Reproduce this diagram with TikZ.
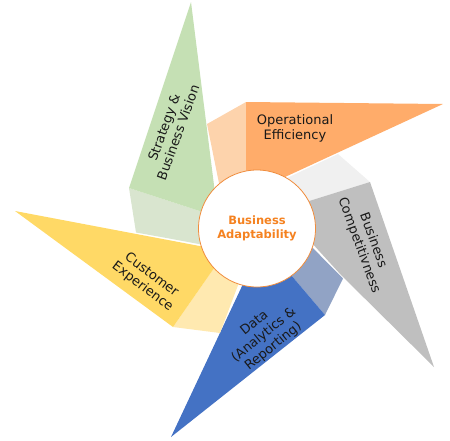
\documentclass[tikz,border=0pt]{standalone}
\usepackage{fontspec}
\setmainfont{DejaVu Sans}
\usepackage{tikz}
\definecolor{greendark}{RGB}{197,224,180}
\definecolor{greenlight}{RGB}{217,229,207}
\definecolor{orangedark}{RGB}{255,172,106}
\definecolor{orangelight}{RGB}{253,211,172}
\definecolor{graydark}{RGB}{191,191,191}
\definecolor{graylight}{RGB}{240,240,240}
\definecolor{bluedark}{RGB}{68,114,196}
\definecolor{bluelight}{RGB}{145,163,197}
\definecolor{yellowdark}{RGB}{255,217,102}
\definecolor{yellowlight}{RGB}{255,233,176}
\definecolor{hubline}{RGB}{240,140,60}
\definecolor{hubtext}{RGB}{245,130,32}

\begin{document}
\begin{tikzpicture}[x=1pt,y=-1pt]
    \tikzstyle{blade}=[draw=none]
    \tikzstyle{caption}=[align=center, text=black!90, inner sep=0pt, font=\fontsize{13}{15}\selectfont]
    \tikzstyle{hub}=[
      circle,
      draw=hubline,
      fill=white,
      line width=0.8pt,
      minimum size=117pt,
      inner sep=0pt,
      align=center,
      text=hubtext,
      font=\bfseries\fontsize{11.5}{13.5}\selectfont,
    ]
    \useasboundingbox (0,0) rectangle (450,440);

    \fill[blade,greenlight] (129,188) -- (136,232.5) -- (172,239) -- (228,249.5) -- (218,217) -- cycle;
    \fill[blade,greendark] (191,2) -- (129,188) -- (218,217) -- cycle;
    \fill[blade,orangelight] (207,124) -- (246,102) -- (246,195) -- (222,198) -- cycle;
    \fill[blade,orangedark] (246,102) -- (443,104) -- (246,195) -- cycle;
    \fill[blade,graylight] (270,186) -- (338,154) -- (370,182) -- (290,207) -- cycle;
    \fill[blade,graydark] (370,182) -- (434,367) -- (341,275) -- (300,230) -- (290,207) -- cycle;
    \fill[blade,bluelight] (298,233) -- (343,278.5) -- (325,315) -- (280,262) -- cycle;
    \fill[blade,bluedark] (171,437) -- (325,315) -- (280,262) -- (251,267) -- cycle;
    \fill[blade,yellowlight] (226,251) -- (173,327) -- (220,333) -- (246,264) -- cycle;
    \fill[blade,yellowdark] (15,211) -- (226,251) -- (173,327) -- cycle;

    \node[hub] (hub) at (257,228.5) {Business\\Adaptability};

    \node[caption,rotate=70] (strategy) at (171,130) {Strategy \&\\Business Vision};
    \node[caption] (efficiency) at (295,128) {Operational\\Efficiency};
    \node[caption,rotate=-70] (competition) at (366,243) {Business\\Competitivness};
    \node[caption,rotate=39] (data) at (264,335) {Data\\(Analytics \&\\Reporting)};
    \node[caption,rotate=-37] (customer) at (147,281) {Customer\\Experience};
\end{tikzpicture}
\end{document}
